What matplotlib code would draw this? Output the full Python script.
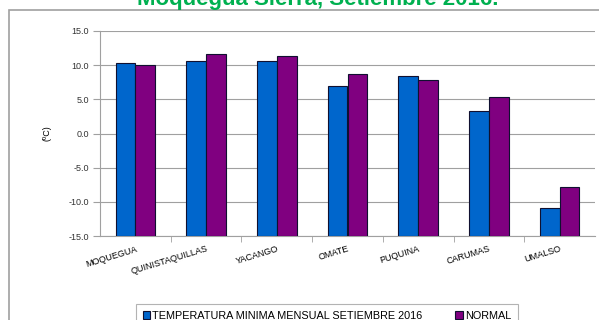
import numpy as np
from matplotlib import pyplot as plt
from matplotlib import patches

estaciones = ["MOQUEGUA", "QUINISTAQUILLAS", "YACANGO", "OMATE", "PUQUINA", "CARUMAS", "UMALSO"]
tmin_2016 = [10.3, 10.6, 10.6, 6.9, 8.4, 3.3, -10.9]
normal = [10.0, 11.6, 11.3, 8.7, 7.9, 5.4, -7.9]

plt.rcParams['font.family'] = ['Liberation Sans', 'DejaVu Sans']

fig = plt.figure(figsize=(5.99, 3.20), dpi=100)
# marco gris del grafico
fig.patches.append(patches.Rectangle((9/599, -0.1), 1.0, 1 - 10/320 + 0.1, transform=fig.transFigure,
                                     linewidth=1.2, edgecolor="#a0a0a0", facecolor="none"))
fig.text(0.53, 1 - 5/320, "Moquegua Sierra, Setiembre 2016.", color="#00b050",
         fontsize=16, fontweight="bold", ha="center", va="baseline")

ax = fig.add_axes([100/599, 1 - 236/320, 495/599, 205/320])
x = np.arange(len(estaciones))
w = 0.28
ax.bar(x - w/2, tmin_2016, w, color="#0066cc", edgecolor="#101030", linewidth=0.8,
       label="TEMPERATURA MINIMA MENSUAL SETIEMBRE 2016", zorder=3)
ax.bar(x + w/2, normal, w, color="#800080", edgecolor="#101030", linewidth=0.8,
       label="NORMAL", zorder=3)

# barras desde -15 (base del eje)
for c in ax.containers:
    for b in c:
        h = b.get_y() + b.get_height()
        b.set_y(-15)
        b.set_height(h + 15)

ax.set_ylim(-15, 15)
ax.set_xlim(-0.5, len(estaciones) - 0.5)
ax.set_yticks(np.arange(-15, 16, 5))
ax.set_yticklabels(["%.1f" % v for v in np.arange(-15, 16, 5)], fontsize=6.5, color="#333333")
ax.yaxis.grid(True, color="#a0a0a0", linewidth=0.8, zorder=0)
ax.set_axisbelow(True)
ax.set_ylabel("(ºC)", fontsize=6.5, labelpad=12)

ax.set_xticks(x)
ax.set_xticklabels(estaciones, rotation=17, ha="right", fontsize=6.5, rotation_mode="anchor")
ax.set_xticks(np.arange(0.5, len(estaciones) - 0.5, 1), minor=True)
ax.tick_params(axis="x", which="major", length=0, pad=6)
ax.tick_params(axis="x", which="minor", length=4, color="#a0a0a0")
ax.tick_params(axis="y", length=5, color="#a0a0a0", pad=3)
for s in ["top", "right"]:
    ax.spines[s].set_visible(False)
for s in ["left", "bottom"]:
    ax.spines[s].set_color("#a0a0a0")

leg = fig.legend(loc="upper center", bbox_to_anchor=(327/599, 1 - 299/320), ncol=2, fontsize=7.8,
                 frameon=True, fancybox=False, edgecolor="#a0a0a0", handlelength=0.7,
                 handleheight=0.7, handletextpad=0.2, columnspacing=3.0, borderpad=0.6)
leg.get_frame().set_linewidth(0.8)

plt.savefig("out.png", dpi=100)
